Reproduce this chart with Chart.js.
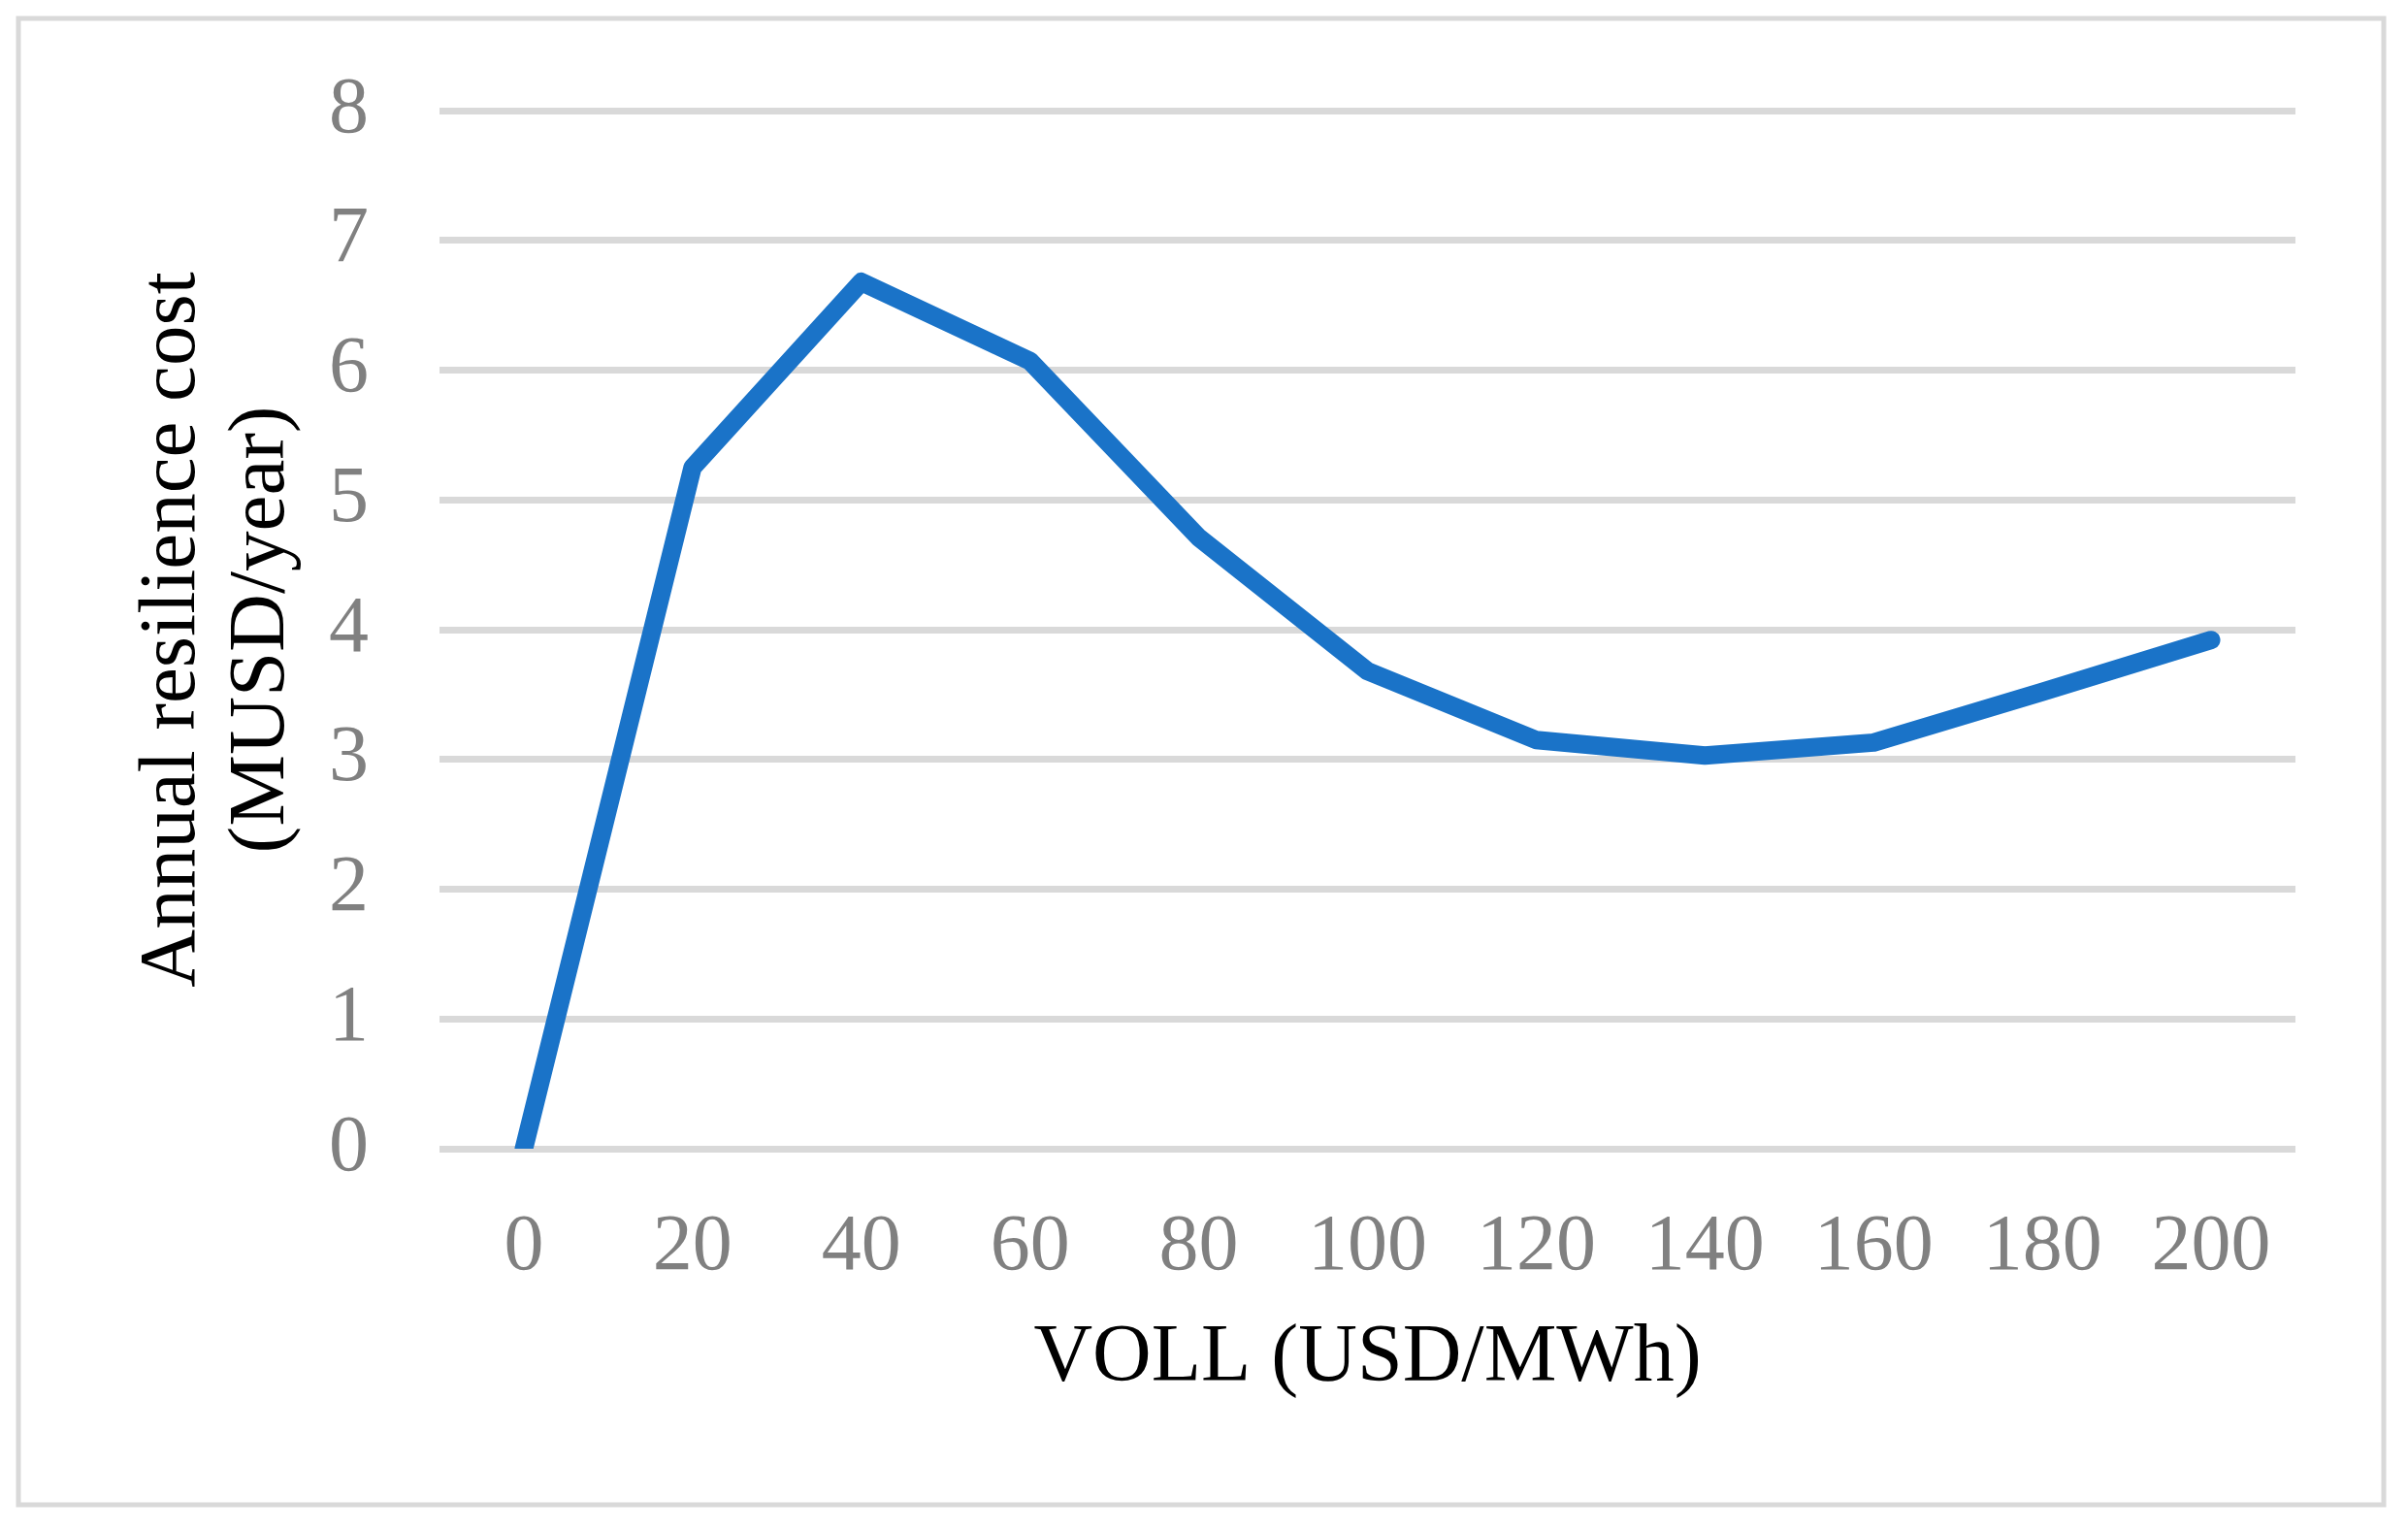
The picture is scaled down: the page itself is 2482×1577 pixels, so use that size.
<!DOCTYPE html>
<html>
<head>
<meta charset="utf-8">
<script src="https://cdn.jsdelivr.net/npm/chart.js@4.4.1/dist/chart.umd.min.js"></script>
<style>
    body { margin: 0; background: #fff; }
    #wrap { width: 2482px; height: 1577px; position: relative; }
</style>
</head>
<body>
<div id="wrap"><canvas id="myChart"></canvas></div>
<script>
// VOLL vs annual resilience cost

const voll = ['0', '20', '40', '60', '80', '100', '120', '140', '160', '180', '200'];
const resilienceCost = [0, 5.25, 6.68, 6.07, 4.71, 3.68, 3.15, 3.03, 3.13, 3.52, 3.92];
const yTicks = [0, 1, 2, 3, 4, 5, 6, 7, 8];

const serif = "'Liberation Serif', 'Times New Roman', serif";

// light grey frame round the whole chart
const frame = {
    id: 'frame',
    beforeDraw(chart) {
        const ctx = chart.ctx;
        ctx.save();
        ctx.fillStyle = '#ffffff';
        ctx.fillRect(0, 0, chart.width, chart.height);
        ctx.strokeStyle = '#d9d9d9';
        ctx.lineWidth = 5;
        ctx.strokeRect(19, 19, 2438, 1532);
        ctx.restore();
    }
};

const config = {
    type: 'line',
    data: {
        labels: voll,
        datasets: [{
            label: 'Annual resilience cost',
            data: resilienceCost,
            borderColor: '#1a73c8',
            borderWidth: 19,
            borderCapStyle: 'round',
            borderJoinStyle: 'round',
            pointRadius: 0,
            tension: 0,
            fill: false
        }]
    },
    options: {
        responsive: true,
        maintainAspectRatio: false,
        animation: false,
        layout: {
            padding: { top: 107, right: 116, bottom: 0, left: 0 }
        },
        plugins: {
            legend: { display: false },
            tooltip: { enabled: false }
        },
        scales: {
            x: {
                offset: true,
                grid: { display: false },
                border: { display: false },
                ticks: {
                    color: '#808080',
                    padding: 53,
                    maxRotation: 0,
                    font: { family: serif, size: 82, lineHeight: 1 }
                },
                title: {
                    display: true,
                    text: 'VOLL (USD/MWh)',
                    color: '#000000',
                    font: { family: serif, size: 84, lineHeight: 1.2 },
                    padding: { top: 0, bottom: 126 }
                },
                afterFit(axis) { axis.height = 393; }
            },
            y: {
                min: 0,
                max: 8,
                grid: {
                    color: '#d9d9d9',
                    lineWidth: 7,
                    drawTicks: false
                },
                border: { display: false },
                afterBuildTicks(axis) {
                    axis.ticks = yTicks.map(v => ({ value: v }));
                },
                ticks: {
                    color: '#808080',
                    padding: 73,
                    font: { family: serif, size: 82, lineHeight: 1 }
                },
                title: {
                    display: true,
                    text: ['Annual resilience cost', '(MUSD/year)'],
                    color: '#000000',
                    font: { family: serif, size: 83, lineHeight: 1.11 },
                    padding: { top: 132, bottom: 0 }
                },
                afterFit(axis) { axis.width = 453; }
            }
        }
    },
    plugins: [frame]
};

const myChart = new Chart(document.getElementById('myChart'), config);
</script>
</body>
</html>
